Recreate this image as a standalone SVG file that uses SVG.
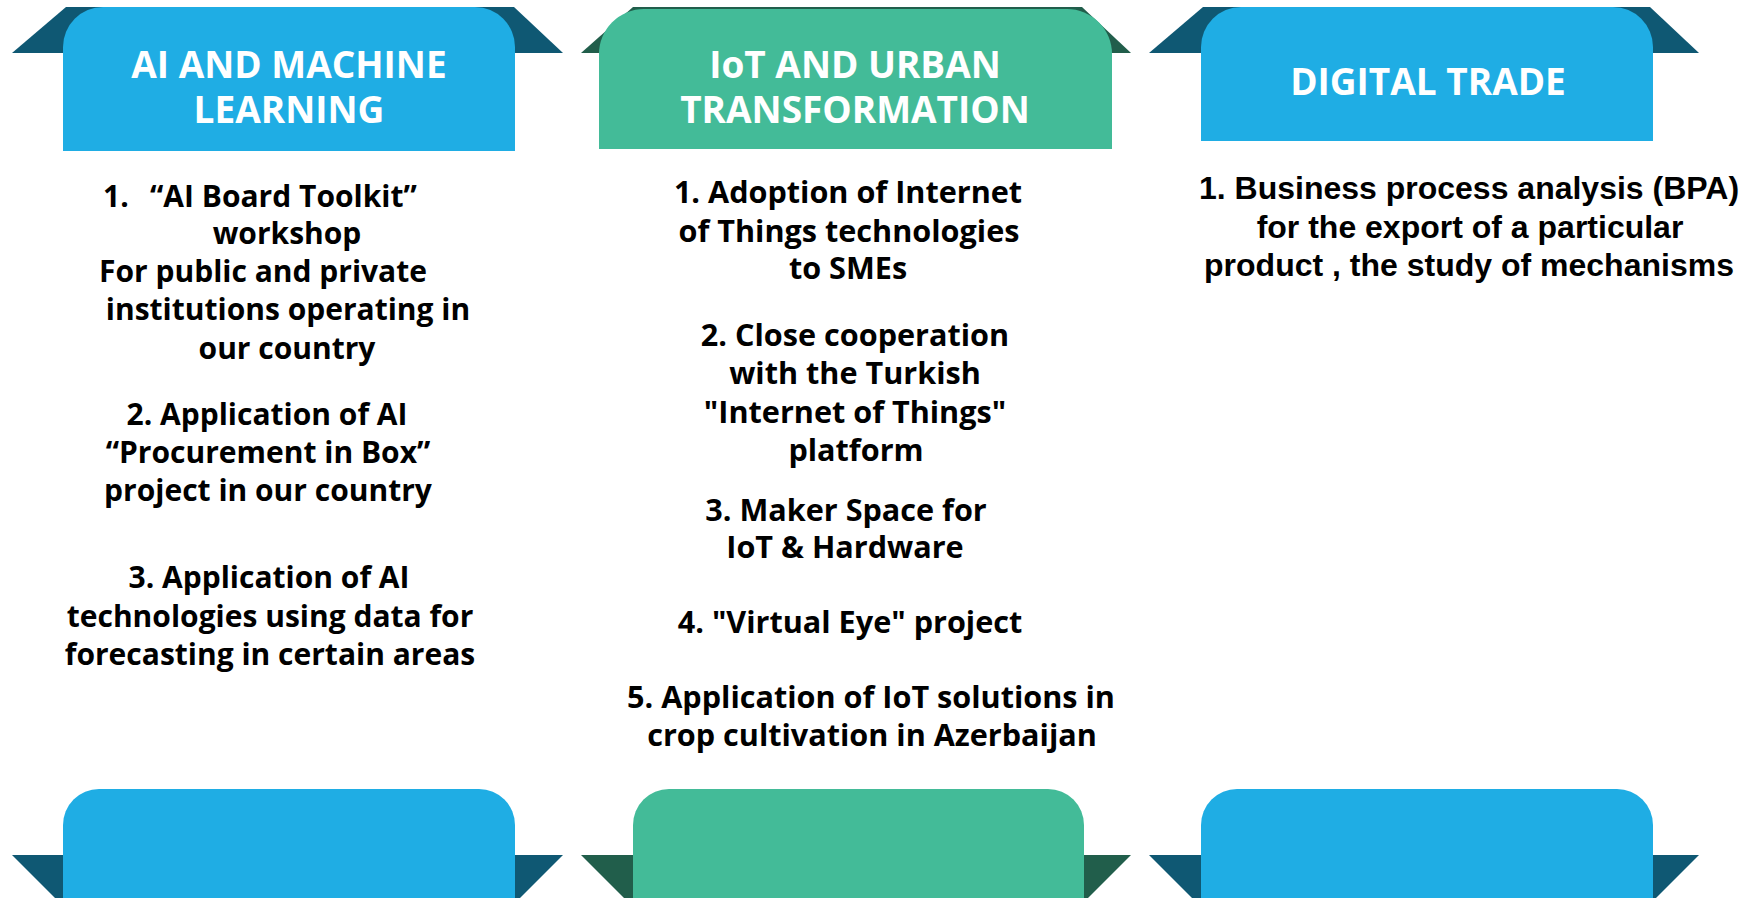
<svg xmlns="http://www.w3.org/2000/svg" width="1750" height="898" viewBox="0 0 1750 898">
<style>
.blue{fill:#1FADE4}
.dblue{fill:#0F5873}
.green{fill:#43BB98}
.dgreen{fill:#215E4B}
.head{font-family:"Open Sans","Noto Sans",sans-serif;font-weight:700;font-size:37px;fill:#FFFFFF;text-anchor:middle}
.body{font-family:"Open Sans","Noto Sans",sans-serif;font-weight:700;font-size:30px;fill:#000000;text-anchor:middle}
.body2{font-family:"Open Sans","Noto Sans",sans-serif;font-weight:700;font-size:30.6px;fill:#000000;text-anchor:middle}
.body3{font-family:"Liberation Sans",Arial,sans-serif;font-weight:700;font-size:32px;fill:#000000;text-anchor:middle}
</style>
<rect width="1750" height="898" fill="#FFFFFF"/>
<g id="col-ai-header">
<polygon class="dblue" points="66,7 514,7 563,53 12,53"/>
<path class="blue" d="M63,151 V47 A40,40 0 0 1 103,7 H475 A40,40 0 0 1 515,47 V151 Z"/>
<text class="head"><tspan x="289" y="78">AI AND MACHINE</tspan><tspan x="289" y="123">LEARNING</tspan></text>
</g>
<g id="col-iot-header">
<polygon class="dgreen" points="633,7 1082,7 1131,53 581,53"/>
<path class="green" d="M599,149 V54 A45,45 0 0 1 644,9 H1067 A45,45 0 0 1 1112,54 V149 Z"/>
<text class="head"><tspan x="855" y="78">IoT AND URBAN</tspan><tspan x="855" y="123">TRANSFORMATION</tspan></text>
</g>
<g id="col-trade-header">
<polygon class="dblue" points="1203,7 1650,7 1699,53 1149,53"/>
<path class="blue" d="M1201,141 V47 A40,40 0 0 1 1241,7 H1613 A40,40 0 0 1 1653,47 V141 Z"/>
<text class="head" x="1428" y="95">DIGITAL TRADE</text>
</g>
<g id="col-ai-items">
<text class="body"><tspan x="103" y="207" style="text-anchor:start">1.</tspan><tspan x="150" y="207" style="text-anchor:start">“AI Board Toolkit”</tspan><tspan x="287" y="244">workshop</tspan><tspan x="263" y="282">For public and private</tspan><tspan x="288" y="320">institutions operating in</tspan><tspan x="287" y="359">our country</tspan></text>
<text class="body"><tspan x="267" y="425">2. Application of AI</tspan><tspan x="268" y="463">“Procurement in Box”</tspan><tspan x="268" y="501">project in our country</tspan></text>
<text class="body"><tspan x="269" y="588">3. Application of AI</tspan><tspan x="270" y="627">technologies using data for</tspan><tspan x="270" y="665">forecasting in certain areas</tspan></text>
</g>
<g id="col-iot-items">
<text class="body2"><tspan x="848" y="203">1. Adoption of Internet</tspan><tspan x="849" y="242">of Things technologies</tspan><tspan x="848" y="279">to SMEs</tspan></text>
<text class="body2"><tspan x="855" y="346">2. Close cooperation</tspan><tspan x="855" y="384">with the Turkish</tspan><tspan x="855" y="423">"Internet of Things"</tspan><tspan x="856" y="461">platform</tspan></text>
<text class="body2"><tspan x="846" y="521">3. Maker Space for</tspan><tspan x="845" y="558">IoT &amp; Hardware</tspan></text>
<text class="body2" x="850" y="633">4. "Virtual Eye" project</text>
<text class="body2"><tspan x="871" y="708">5. Application of IoT solutions in</tspan><tspan x="872" y="746">crop cultivation in Azerbaijan</tspan></text>
</g>
<g id="col-trade-items">
<text class="body3"><tspan x="1469" y="199">1. Business process analysis (BPA)</tspan><tspan x="1470" y="238">for the export of a particular</tspan><tspan x="1469" y="276">product , the study of mechanisms</tspan></text>
</g>
<g id="col-ai-footer">
<polygon class="dblue" points="12,855 563,855 517,901 58,901"/>
<path class="blue" d="M63,900 V825 A36,36 0 0 1 99,789 H479 A36,36 0 0 1 515,825 V900 Z"/>
</g>
<g id="col-iot-footer">
<polygon class="dgreen" points="581,855 1131,855 1085,901 627,901"/>
<path class="green" d="M633,900 V825 A36,36 0 0 1 669,789 H1048 A36,36 0 0 1 1084,825 V900 Z"/>
</g>
<g id="col-trade-footer">
<polygon class="dblue" points="1149,855 1699,855 1653,901 1195,901"/>
<path class="blue" d="M1201,900 V825 A36,36 0 0 1 1237,789 H1617 A36,36 0 0 1 1653,825 V900 Z"/>
</g>
<g id="connectors"></g>
</svg>
